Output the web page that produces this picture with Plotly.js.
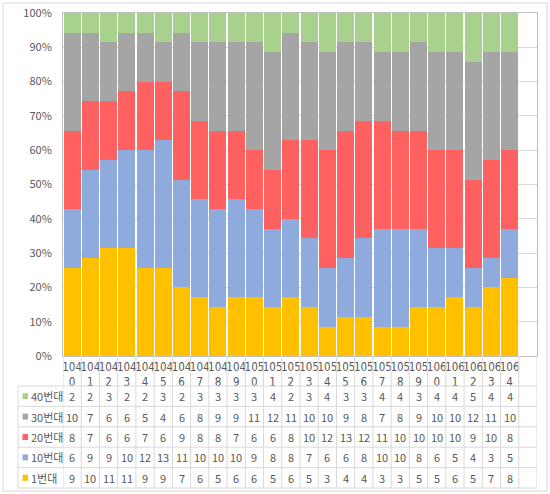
<!DOCTYPE html>
<html><head><meta charset="utf-8">
<script src="https://cdn.plot.ly/plotly-3.0.1.min.js"></script>
<style>html,body{margin:0;padding:0;background:#fff;}#c{width:550px;height:494px;}</style>
</head><body><div id="c"></div>
<script>
var categories = ['1040','1041','1042','1043','1044','1045','1046','1047','1048','1049','1050','1051','1052','1053','1054','1055','1056','1057','1058','1059','1060','1061','1062','1063','1064'];
var s40 = [2,2,3,2,2,3,2,3,3,3,3,4,2,3,4,3,3,4,4,3,4,4,5,4,4];
var s30 = [10,7,6,6,5,4,6,8,9,9,11,12,11,10,10,9,8,7,8,9,10,10,12,11,10];
var s20 = [8,7,6,6,7,6,9,8,8,7,6,6,8,10,12,13,12,11,10,10,10,10,9,10,8];
var s10 = [6,9,9,10,12,13,11,10,10,10,9,8,8,7,6,6,8,10,10,8,6,5,4,3,5];
var s1  = [9,10,11,11,9,9,7,6,5,6,6,5,6,5,3,4,4,3,3,5,5,6,5,7,8];
var seriesNames = ['40번대','30번대','20번대','10번대','1번대'];
var seriesData = [s40, s30, s20, s10, s1];
var colors = ['#A9D18E','#A5A5A5','#FF6161','#8FAADC','#FFC000'];

var L=63, R=537, T=13, B=356, W=550, H=494;
function py(p){return (B-p)/(B-T);}
function pxp(x){return (x-L)/(R-L);}
var tickText = categories.map(function(c){return c.slice(0,3)+'<br>'+c.slice(3);});

var traces = [];
for (var k=seriesNames.length-1;k>=0;k--){
  traces.push({type:'bar', name:seriesNames[k], x:categories, y:seriesData[k],
    marker:{color:colors[k], line:{width:0}}, hoverinfo:'skip'});
}
var rowTop=386, rowH=20.4, nRows=seriesNames.length;
var tableBottom=rowTop+rowH*nRows;
var grid='#D9D9D9';
var shapes=[], ann=[];
shapes.push({type:'rect',xref:'paper',yref:'paper',x0:pxp(3),x1:pxp(547),y0:py(3),y1:py(491),line:{color:'#D9D9D9',width:1}});
for (var i=0;i<=categories.length+1;i++){
  shapes.push({type:'line',xref:'x',yref:'paper',x0:i-0.5,x1:i-0.5,y0:py(B),y1:py(tableBottom),line:{color:grid,width:1}});
}
shapes.push({type:'line',xref:'paper',yref:'paper',x0:pxp(18),x1:pxp(18),y0:py(rowTop),y1:py(tableBottom),line:{color:grid,width:1}});
for (var r=0;r<=nRows;r++){
  var yy=rowTop+rowH*r;
  shapes.push({type:'line',xref:'paper',yref:'paper',x0:pxp(18),x1:pxp(R),y0:py(yy),y1:py(yy),line:{color:grid,width:1}});
}
var tf={family:'"Noto Sans CJK KR", "Noto Sans", sans-serif',size:11,color:'#595959'};
var tfx={family:'"Liberation Sans Narrow", "DejaVu Sans Condensed", sans-serif',size:11.5,color:'#595959'};
for (var r=0;r<nRows;r++){
  var yc=rowTop+rowH*(r+0.5);
  shapes.push({type:'rect',xref:'paper',yref:'paper',x0:pxp(22.5),x1:pxp(28),y0:py(yc-3),y1:py(yc+3),fillcolor:colors[r],line:{width:0}});
  ann.push({xref:'paper',yref:'paper',x:pxp(29),y:py(yc),text:seriesNames[r],showarrow:false,xanchor:'left',yanchor:'middle',font:tf});
  for (var i=0;i<categories.length;i++){
    ann.push({xref:'x',yref:'paper',x:i,y:py(yc),text:String(seriesData[r][i]),showarrow:false,xanchor:'center',yanchor:'middle',font:tf});
  }
}
var layout={
  width:W,height:H,margin:{l:L,r:W-R,t:T,b:H-B},
  paper_bgcolor:'#fff',plot_bgcolor:'#fff',
  barmode:'stack',barnorm:'percent',bargap:0.07,showlegend:false,
  font:tf,
  xaxis:{type:'category',range:[-0.5,categories.length+0.5],tickmode:'array',tickvals:categories,ticktext:tickText,tickangle:0,
    showgrid:false,showline:true,linecolor:'#BFBFBF',mirror:true,ticks:'',tickfont:tfx,fixedrange:true},
  yaxis:{range:[0,100],dtick:10,ticksuffix:'%',showgrid:true,gridcolor:grid,showline:true,linecolor:'#BFBFBF',mirror:true,
    ticks:'',tickfont:tf,ticklabelstandoff:8,zeroline:false,fixedrange:true},
  shapes:shapes,annotations:ann
};
Plotly.newPlot('c',traces,layout,{displayModeBar:false,staticPlot:true});
</script></body></html>
